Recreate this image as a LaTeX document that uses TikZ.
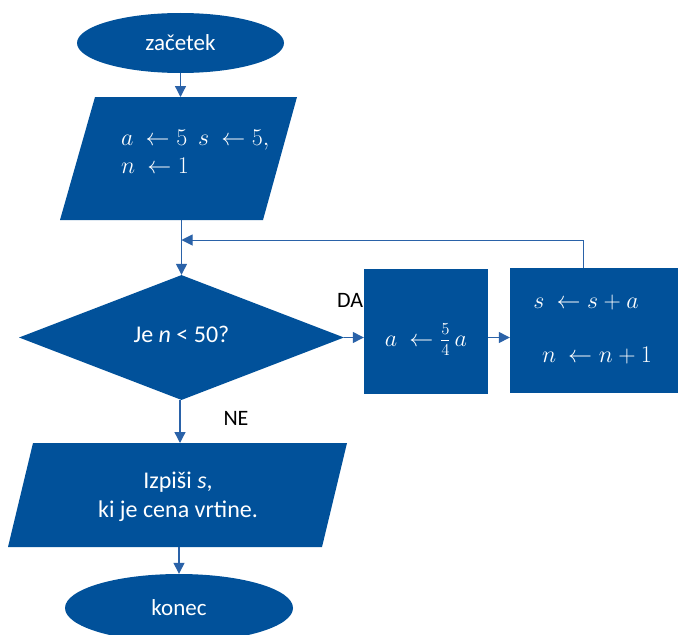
\RequirePackage{fix-cm}
\documentclass[tikz,border=0pt]{standalone}
\usepackage{fontspec}
\setmainfont{Carlito}
\usetikzlibrary{shapes.geometric,arrows.meta}
\definecolor{boxblue}{HTML}{01519A}
\definecolor{lineblue}{HTML}{2A62A8}
\tikzset{
  shapefill/.style={fill=boxblue, draw=none},
  term/.style={shapefill, ellipse, inner sep=0pt, text=white},
  proc/.style={shapefill, rectangle, inner sep=0pt, text=white},
  arr/.style={draw=lineblue, line width=1.3pt, -{Triangle[length=11pt,width=11pt]}},
  lbl/.style={text=black, inner sep=0pt, font=\fontsize{22}{26}\selectfont},
}
\begin{document}
\begin{tikzpicture}[x=1pt,y=-1pt]
\useasboundingbox (0,0) rectangle (679,634);
% start
\node[term, minimum width=207pt, minimum height=60pt, font=\fontsize{23}{27}\selectfont] (start) at (180.5,43) {začetek};
% input parallelogram
\fill[boxblue] (95,97) -- (297,97) -- (263,220) -- (60,220) -- cycle;
\coordinate (p1top) at (180.5,97);
\coordinate (p1bot) at (181.5,220);
\node[text=white, anchor=west, align=left, inner sep=0pt, font=\fontsize{24}{30}\selectfont] (p1) at (121,152)
  {$a\ \leftarrow 5\ \ s\ \leftarrow 5,$\\[-2pt] $n\ \leftarrow 1$};
% decision
\node[shapefill, diamond, minimum width=325pt, minimum height=125pt, inner sep=0pt, text=white, font=\fontsize{24}{28}\selectfont] (dec) at (181.5,337.5) {\raisebox{7pt}{Je \textit{n} < 50?}};
% process boxes
\node[proc, minimum width=124pt, minimum height=125pt, text depth=0pt, font=\fontsize{24}{28}\selectfont] (b1) at (426,331.5) {\raisebox{-7pt}{$a\ \leftarrow \frac{\raisebox{2pt}{$\scriptstyle 5$}}{\raisebox{-1pt}{$\scriptstyle 4$}}\,a$}};
\node[proc, minimum width=168pt, minimum height=125pt] (b2) at (594,330.5) {};
\node[text=white, inner sep=0pt, font=\fontsize{24}{28}\selectfont] (b2a) at (586,302) {$s\ \leftarrow s+a$};
\node[text=white, inner sep=0pt, font=\fontsize{24}{28}\selectfont] (b2b) at (597,356) {$n\ \leftarrow n+1$};
% output parallelogram
\fill[boxblue] (33,443) -- (347,443) -- (322,547) -- (8,547) -- cycle;
\coordinate (p2top) at (180,443);
\coordinate (p2bot) at (179,547);
\node[text=white, align=center, inner sep=0pt, font=\fontsize{24}{29}\selectfont] (p2) at (178,497) {Izpiši \textit{s},\\ki je cena vrtine.};
% end
\node[term, minimum width=228pt, minimum height=68pt, font=\fontsize{23}{27}\selectfont] (end) at (179,608) {konec};
% labels
\node[lbl] (da) at (350,300) {DA};
\node[lbl] (ne) at (236,418) {NE};
% connectors
\draw[arr] (start.south) -- (p1top);
\draw[arr] (p1bot) -- (dec.north);
\draw[arr] (dec.east) -- (dec.east -| b1.west);
\draw[arr] (b1.east |- dec.east) -- (b2.west |- dec.east);
\coordinate (fb) at (583,268);
\coordinate (join) at (181.5,240);
\draw[arr, line width=1pt] (fb) |- (join);
\draw[arr] (dec.south -| p2top) -- (p2top);
\draw[arr] (p2bot) -- (end.north);
\end{tikzpicture}
\end{document}
